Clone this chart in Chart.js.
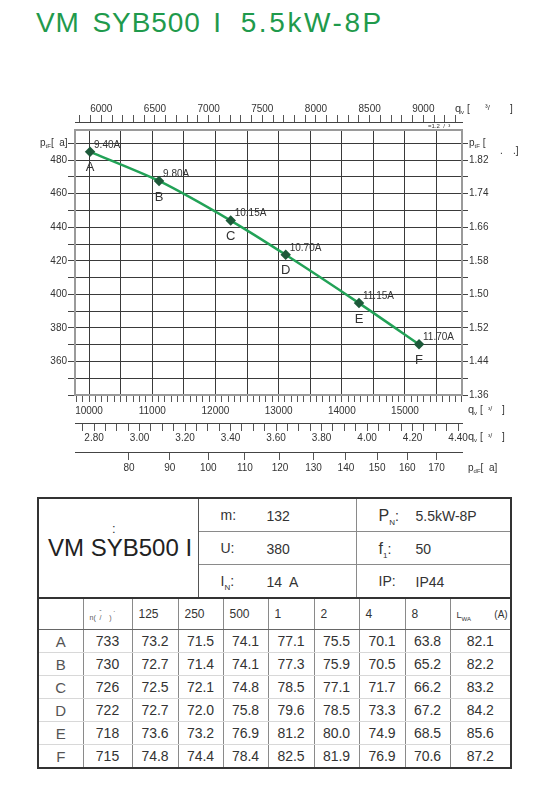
<!DOCTYPE html>
<html>
<head>
<meta charset="utf-8">
<script src="https://cdn.jsdelivr.net/npm/chart.js@4.4.0/dist/chart.umd.min.js"></script>
<style>
  html, body { margin: 0; padding: 0; background: #fff; }
  body { width: 549px; height: 802px; position: relative; overflow: hidden;
         font-family: "Liberation Sans", Arial, sans-serif; color: #333; }
  #title { position: absolute; left: 36px; top: 9px; font-size: 28px; line-height: 28px;
           color: #1f9a4c; letter-spacing: 0.9px; word-spacing: 4px; white-space: nowrap; }
  #title .rating { letter-spacing: 2.6px; margin-left: 6px; }
  #fanChart { position: absolute; left: 0; top: 0; }
  table { position: absolute; left: 37px; width: 473px; border-collapse: collapse; table-layout: fixed; }
  #specs { top: 497px; border: 2px solid #333; }
  #specs td { border: 1px solid #8a8a8a; height: 32px; position: relative; font-size: 14px; padding: 0; }
  #specs td.model { border-right: 1px solid #555; font-size: 24px; color: #222; padding-left: 9px; }
  #specs .colon { position: absolute; left: 73px; top: 22px; font-size: 13px; color: #333; }
  #specs .k { position: absolute; left: 22px; top: 8px; }
  #specs .v { position: absolute; left: 68px; top: 9px; }
  #specs .v2 { position: absolute; left: 59px; top: 9px; }
  #specs .big { font-size: 16px; }
  #specs sub { font-size: 8px; }
  #levels { top: 597px; border: 2px solid #333; }
  #levels td { border-left: 1px solid #8a8a8a; border-right: 1px solid #8a8a8a; padding: 0;
               text-align: center; font-size: 14px; height: 22px; }
  #levels tr.band td { height: 30px; font-size: 12px; text-align: left; padding-left: 6px;
                       border-bottom: 1px solid #666; vertical-align: middle; }
  #levels tr.row td { border-bottom: 1px solid #d8d8d8; }
  #levels td.letter { color: #555; font-size: 15px; }
  #levels .tiny { font-size: 7px; line-height: 8px; color: #555; }
  #levels sub { font-size: 6px; }
</style>
</head>
<body>
<div id="title">VM SYB500 I <span class="rating">5.5kW-8P</span></div>
<canvas id="fanChart" width="549" height="485"></canvas>

<table id="specs">
  <colgroup><col style="width:160px"><col style="width:158px"><col style="width:155px"></colgroup>
  <tr>
    <td class="model" rowspan="3"><span class="colon">:</span>VM SYB500 I</td>
    <td><span class="k">m:</span><span class="v">132</span></td>
    <td><span class="k"><span class="big">P</span><sub>N</sub>:</span><span class="v2">5.5kW-8P</span></td>
  </tr>
  <tr>
    <td><span class="k">U:</span><span class="v">380</span></td>
    <td><span class="k"><span class="big">f</span><sub>1</sub>:</span><span class="v2">50</span></td>
  </tr>
  <tr>
    <td><span class="k">I<sub>N</sub>:</span><span class="v">14&nbsp; A</span></td>
    <td><span class="k">IP:</span><span class="v2">IP44</span></td>
  </tr>
</table>

<table id="levels">
  <colgroup>
    <col style="width:45px"><col style="width:49px"><col style="width:46px"><col style="width:45px">
    <col style="width:45px"><col style="width:46px"><col style="width:45px"><col style="width:46px">
    <col style="width:45px"><col style="width:61px">
  </colgroup>
  <tbody id="levelsBody"></tbody>
</table>

<script>
// operating points
const pointNames = ['A', 'B', 'C', 'D', 'E', 'F'];
const flowRate = [10016, 11108, 12242, 13112, 14272, 15222];      // m3/h
const staticPressure = [485, 467.6, 444, 423.6, 394.8, 370.2];    // Pa
const currentLabels = ['9.40A', '9.80A', '10.15A', '10.70A', '11.15A', '11.70A'];

// axis tick labels
const leftTickLabels = [360, 380, 400, 420, 440, 460, 480];
const rightTickValues = [340, 360, 380, 400, 420, 440, 460, 480];
const rightTickLabels = ['1.36', '1.44', '1.52', '1.50', '1.58', '1.66', '1.74', '1.82'];
const cfmTickLabels = [6000, 6500, 7000, 7500, 8000, 8500, 9000];
const flowTickLabels = [10000, 11000, 12000, 13000, 14000, 15000];
const flowSecTickLabels = [2.80, 3.00, 3.20, 3.40, 3.60, 3.80, 4.00, 4.20, 4.40];
const dynPressureLabels = [80, 90, 100, 110, 120, 130, 140, 150, 160, 170];

// sound table
const bandLabels = ['125', '250', '500', '1', '2', '4', '8'];
const fanSpeed = [733, 730, 726, 722, 718, 715];
const soundLevels = [
  [73.2, 71.5, 74.1, 77.1, 75.5, 70.1, 63.8],
  [72.7, 71.4, 74.1, 77.3, 75.9, 70.5, 65.2],
  [72.5, 72.1, 74.8, 78.5, 77.1, 71.7, 66.2],
  [72.7, 72.0, 75.8, 79.6, 78.5, 73.3, 67.2],
  [73.6, 73.2, 76.9, 81.2, 80.0, 74.9, 68.5],
  [74.8, 74.4, 78.4, 82.5, 81.9, 76.9, 70.6]
];
const soundPower = [82.1, 82.2, 83.2, 84.2, 85.6, 87.2];

// ---- table ----
const body = document.getElementById('levelsBody');
let html = '<tr class="band"><td></td><td><div class="tiny">&nbsp;&nbsp;&nbsp;&nbsp;&nbsp;-&nbsp;&nbsp;&nbsp;&nbsp;&nbsp;&nbsp;.</div>' +
  '<div class="tiny">n(&nbsp; /&nbsp;&nbsp;&nbsp; )</div></td>';
bandLabels.forEach(b => { html += '<td>' + b + '</td>'; });
html += '<td><span style="font-size:9px">L<sub>WA</sub></span>&nbsp;&nbsp;&nbsp;&nbsp;&nbsp;&nbsp;&nbsp;<span style="font-size:10px">(A)</span></td></tr>';
pointNames.forEach((name, i) => {
  html += '<tr class="row"><td class="letter">' + name + '</td><td>' + fanSpeed[i] + '</td>';
  soundLevels[i].forEach(v => { html += '<td>' + v.toFixed(1) + '</td>'; });
  html += '<td>' + soundPower[i].toFixed(1) + '</td></tr>';
});
body.innerHTML = html;

// ---- chart ----
const CFM_PER_M3H = 0.5886;
const flowMin = 9778, flowMax = 15902;
const pdCoef = 7.077e-7;          // dynamic pressure = k * q^2
const yMin = 340, yMax = 498;

function steps(from, to, step) {
  const out = [];
  for (let i = 0; from + i * step <= to + 1e-9; i++) out.push(Math.round((from + i * step) * 1000) / 1000);
  return out;
}
function setTicks(values) {
  return s => { s.ticks = values.map(v => ({ value: v })); };
}
function fixSize(size) {
  return s => { if (s.isHorizontal()) s.height = size; else s.width = size; };
}
function near(list, v) {
  return list.some(t => Math.abs(t - v) < 1e-6);
}

Chart.defaults.font.family = '"Liberation Sans", Arial, sans-serif';
Chart.defaults.font.size = 10;
Chart.defaults.color = '#333';

function drawParts(ctx, x, y, parts) {
  parts.forEach(([txt, size, dy]) => {
    ctx.font = size + 'px "Liberation Sans", Arial, sans-serif';
    ctx.fillText(txt, x, y + dy);
    x += ctx.measureText(txt).width;
  });
}

const decorations = {
  id: 'decorations',
  afterLayout(chart) {
    // top axis sits a little above the plot frame
    const s = chart.scales.xTop;
    s.top -= 8;
    s.bottom -= 8;
  },
  beforeDatasetsDraw(chart) {
    const { ctx, chartArea: a } = chart;
    ctx.save();
    ctx.strokeStyle = '#9a9a9a';
    ctx.lineWidth = 2;
    ctx.strokeRect(a.left, a.top, a.right - a.left, a.bottom - a.top);
    ctx.restore();
  },
  afterDatasetsDraw(chart) {
    const { ctx } = chart;
    const meta = chart.getDatasetMeta(0);
    ctx.save();
    ctx.fillStyle = '#333';
    ctx.textBaseline = 'middle';
    meta.data.forEach((pt, i) => {
      ctx.font = '10px "Liberation Sans", Arial, sans-serif';
      ctx.textAlign = 'left';
      ctx.fillText(currentLabels[i], pt.x + 4, pt.y - 7);
      ctx.font = '13px "Liberation Sans", Arial, sans-serif';
      ctx.textAlign = 'center';
      ctx.fillText(pointNames[i], pt.x, pt.y + 16);
    });
    ctx.restore();
  },
  afterDraw(chart) {
    const { ctx, scales } = chart;
    const y490 = scales.y.getPixelForValue(490);
    ctx.save();
    ctx.fillStyle = '#333';
    ctx.textBaseline = 'middle';
    ctx.textAlign = 'left';
    drawParts(ctx, 40, y490, [['p', 10, 0], ['tF', 6, 3], ['[  a]', 10, 0]]);
    drawParts(ctx, 469, y490, [['p', 10, 0], ['tF', 6, 3], [' [', 10, 0]]);
    drawParts(ctx, 500, y490 + 8, [['.', 10, 0]]);
    drawParts(ctx, 513, y490 + 8, [['.]', 10, 0]]);
    // flow unit labels
    drawParts(ctx, 455, 109, [['q', 11, 0], ['v', 6, 3], [' [', 10, 0]]);
    drawParts(ctx, 485, 108, [['³/', 8, 0]]);
    drawParts(ctx, 510, 109, [[']', 10, 0]]);
    drawParts(ctx, 428, 126, [['=1.2  /  ³', 6, 0]]);
    drawParts(ctx, 468, 410, [['q', 11, 0], ['v', 6, 3], [' [', 10, 0]]);
    drawParts(ctx, 488, 409, [['³/', 7, 0]]);
    drawParts(ctx, 502, 410, [[']', 10, 0]]);
    drawParts(ctx, 468, 437, [['q', 11, 0], ['v', 6, 3], [' [', 10, 0]]);
    drawParts(ctx, 488, 436, [['³/', 7, 0]]);
    drawParts(ctx, 502, 437, [[']', 10, 0]]);
    drawParts(ctx, 468, 468, [['p', 10, 0], ['dF', 6, 3], ['[  a]', 10, 0]]);
    ctx.restore();
  }
};

new Chart(document.getElementById('fanChart').getContext('2d'), {
  type: 'line',
  data: {
    datasets: [{
      data: flowRate.map((q, i) => ({ x: q, y: staticPressure[i] })),
      borderColor: '#22a257',
      borderWidth: 2.5,
      tension: 0.25,
      pointStyle: 'rectRot',
      pointRadius: 3.5,
      pointBackgroundColor: '#1d5a3a',
      pointBorderColor: '#1d5a3a',
      xAxisID: 'x',
      yAxisID: 'y'
    }]
  },
  options: {
    responsive: false,
    animation: false,
    layout: { padding: 0 },
    plugins: { legend: { display: false }, tooltip: { enabled: false } },
    scales: {
      x: {
        type: 'linear', position: 'bottom', weight: 0,
        min: flowMin, max: flowMax,
        afterBuildTicks: setTicks(steps(9800, 15900, 100)),
        afterFit: fixSize(28),
        border: { display: false },
        grid: {
          color: c => (c.tick && c.tick.value % 500 === 0) ? '#3a3a3a' : 'rgba(0,0,0,0)',
          tickColor: '#555', tickLength: 7, lineWidth: 1
        },
        ticks: {
          autoSkip: false, maxRotation: 0, padding: 3,
          callback: v => near(flowTickLabels, v) ? String(v) : ''
        }
      },
      xS: {
        type: 'linear', position: 'bottom', weight: 1,
        min: flowMin / 3600, max: flowMax / 3600,
        afterBuildTicks: setTicks(steps(2.75, 4.40, 0.05)),
        afterFit: fixSize(29),
        border: { display: true, color: '#444', width: 1 },
        grid: { drawOnChartArea: false, tickColor: '#555', tickLength: 8 },
        ticks: {
          autoSkip: false, maxRotation: 0, padding: 1,
          callback: v => near(flowSecTickLabels, v) ? v.toFixed(2) : ''
        }
      },
      xPd: {
        type: 'linear', position: 'bottom', weight: 2,
        min: flowMin, max: flowMax,
        afterBuildTicks: setTicks(dynPressureLabels.map(p => Math.sqrt(p / pdCoef))),
        afterFit: fixSize(33),
        border: { display: true, color: '#444', width: 1 },
        grid: { drawOnChartArea: false, tickColor: '#555', tickLength: 8 },
        ticks: {
          autoSkip: false, maxRotation: 0, padding: 2,
          callback: (v, i) => String(dynPressureLabels[i])
        }
      },
      xTop: {
        type: 'linear', position: 'top',
        min: flowMin * CFM_PER_M3H, max: flowMax * CFM_PER_M3H,
        afterBuildTicks: setTicks(steps(5800, 9300, 100)),
        afterFit: fixSize(130),
        border: { display: true, color: '#444', width: 1 },
        grid: { drawOnChartArea: false, tickColor: '#555', tickLength: 7 },
        ticks: {
          autoSkip: false, maxRotation: 0, padding: 0,
          callback: v => near(cfmTickLabels, v) ? String(v) : ''
        }
      },
      y: {
        type: 'linear', position: 'left',
        min: yMin, max: yMax,
        afterBuildTicks: setTicks(steps(340, 490, 10)),
        afterFit: fixSize(75),
        border: { display: false },
        grid: { color: '#3a3a3a', tickColor: '#444', tickLength: 7, lineWidth: 1 },
        ticks: {
          autoSkip: false, padding: 1,
          callback: v => near(leftTickLabels, v) ? String(v) : ''
        }
      },
      yR: {
        type: 'linear', position: 'right',
        min: yMin, max: yMax,
        afterBuildTicks: setTicks(steps(340, 490, 10)),
        afterFit: fixSize(87),
        border: { display: false },
        grid: { drawOnChartArea: false, tickColor: '#444', tickLength: 6 },
        ticks: {
          autoSkip: false, padding: 1,
          callback: v => {
            const i = rightTickValues.indexOf(v);
            return i >= 0 ? rightTickLabels[i] : '';
          }
        }
      }
    }
  },
  plugins: [decorations]
});
</script>
</body>
</html>
